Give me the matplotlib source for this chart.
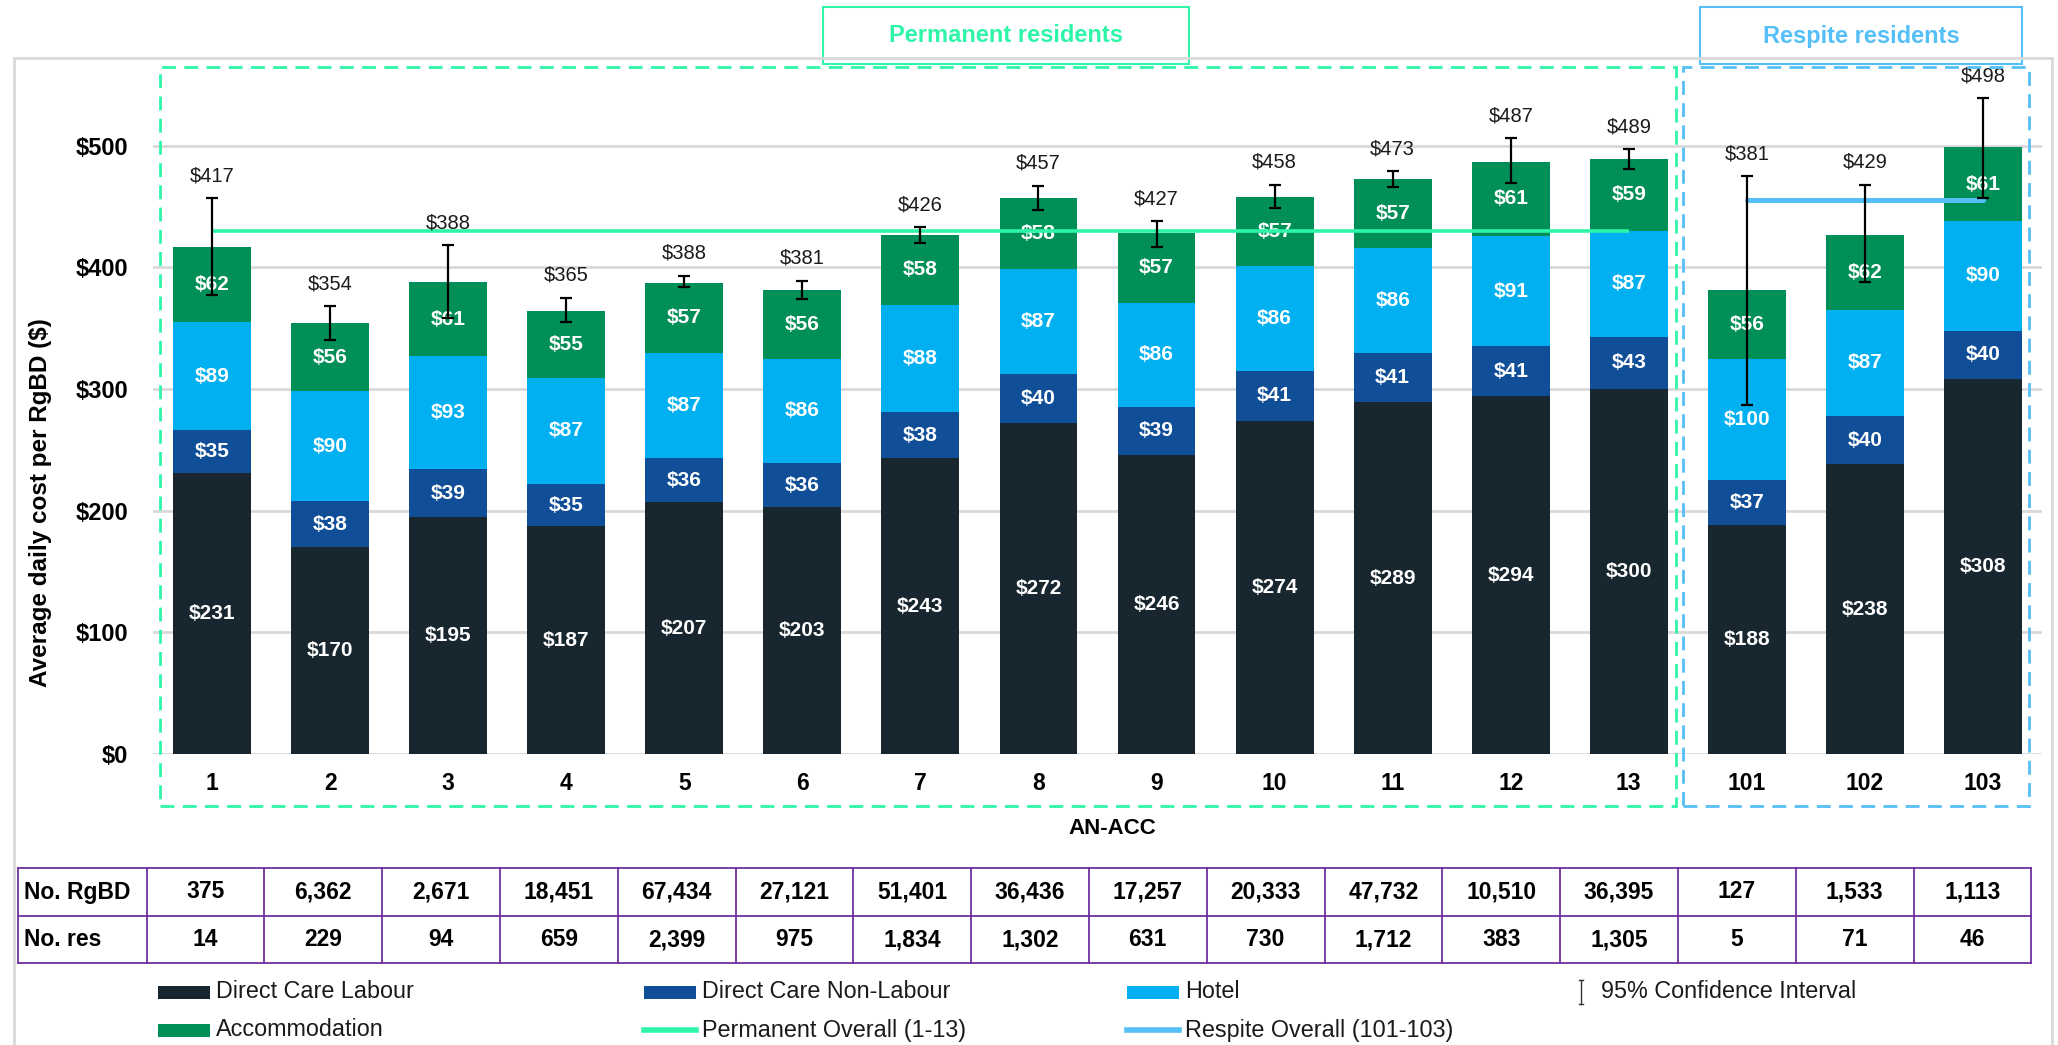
import matplotlib
matplotlib.use('Agg')
import matplotlib.pyplot as plt
from matplotlib.patches import Rectangle
from matplotlib.lines import Line2D
import numpy as np

plt.rcParams['font.family'] = ['Liberation Sans', 'DejaVu Sans']

# data
categories = ['1', '2', '3', '4', '5', '6', '7', '8', '9', '10', '11', '12', '13', '101', '102', '103']
labour = [231, 170, 195, 187, 207, 203, 243, 272, 246, 274, 289, 294, 300, 188, 238, 308]
non_labour = [35, 38, 39, 35, 36, 36, 38, 40, 39, 41, 41, 41, 43, 37, 40, 40]
hotel = [89, 90, 93, 87, 87, 86, 88, 87, 86, 86, 86, 91, 87, 100, 87, 90]
accommodation = [62, 56, 61, 55, 57, 56, 58, 58, 57, 57, 57, 61, 59, 56, 62, 61]
totals = [417, 354, 388, 365, 388, 381, 426, 457, 427, 458, 473, 487, 489, 381, 429, 498]
ci_low = [377, 340, 358, 355, 384, 374, 420, 447, 417, 449, 466, 469, 481, 287, 388, 457]
ci_high = [457, 368, 418, 375, 393, 389, 433, 467, 438, 468, 479, 506, 497, 475, 468, 539]
perm_overall = 430
resp_overall = 455
n_perm = 13
no_rgbd = ['375', '6,362', '2,671', '18,451', '67,434', '27,121', '51,401', '36,436', '17,257',
           '20,333', '47,732', '10,510', '36,395', '127', '1,533', '1,113']
no_res = ['14', '229', '94', '659', '2,399', '975', '1,834', '1,302', '631', '730', '1,712',
          '383', '1,305', '5', '71', '46']
series_names = ['Direct Care Labour', 'Direct Care Non-Labour', 'Hotel', 'Accommodation']

C_LAB = '#18272F'
C_NON = '#114E98'
C_HOT = '#00B0F0'
C_ACC = '#008F56'
C_PERM = '#2EF5A8'
C_RESP = '#55BFF8'
C_GRID = '#D9D9D9'
C_TAB = '#7030A0'

W, H = 2058, 1045
def fx(x): return x / W
def fy(y): return 1 - y / H

def main():
	fig = plt.figure(figsize=(W / 100, H / 100), dpi=100, facecolor='white')
	ax_l, ax_r, ax_t, ax_b = 153, 2042, 72.7, 754
	ax = fig.add_axes([fx(ax_l), fy(ax_b), (ax_r - ax_l) / W, (ax_b - ax_t) / H])

	x = np.arange(len(categories))
	stacks = [labour, non_labour, hotel, accommodation]
	colors = [C_LAB, C_NON, C_HOT, C_ACC]
	bottom = np.zeros(len(categories))
	for vals, col in zip(stacks, colors):
		vals = np.array(vals)
		ax.bar(x, vals, width=0.66, bottom=bottom, color=col, zorder=2)
		for xi, b, v in zip(x, bottom, vals):
			ax.text(xi, b + v / 2, '${}'.format(v), ha='center', va='center', color='white',
					fontsize=15, fontweight='bold', zorder=3)
		bottom = bottom + vals

	# overall lines
	ax.plot([x[0], x[n_perm - 1]], [perm_overall] * 2, color=C_PERM, lw=2.6, zorder=4, solid_capstyle='butt')
	ax.plot([x[n_perm], x[-1]], [resp_overall] * 2, color=C_RESP, lw=3.6, zorder=4, solid_capstyle='round')

	# confidence intervals
	tot = np.array(totals)
	ax.errorbar(x, tot, yerr=[tot - np.array(ci_low), np.array(ci_high) - tot], fmt='none',
				ecolor='black', elinewidth=1.6, capsize=4.2, capthick=1.6, zorder=5)
	for xi, t, hi in zip(x, totals, ci_high):
		ax.text(xi, hi + 18.5, '${}'.format(t), ha='center', va='center', fontsize=14.5,
				color='#1A1A1A', zorder=6)

	ax.set_xlim(-0.5, len(categories) - 0.5)
	ax.set_ylim(0, 560)
	ax.set_yticks(np.arange(0, 501, 100))
	ax.set_yticklabels(['${}'.format(v) for v in range(0, 501, 100)], fontsize=17, fontweight='bold')
	ax.set_xticks(x)
	ax.set_xticklabels(categories, fontsize=16.5, fontweight='bold')
	ax.tick_params(axis='both', length=0)
	ax.tick_params(axis='y', pad=18)
	ax.tick_params(axis='x', pad=13)
	ax.yaxis.grid(True, color=C_GRID, lw=2, zorder=0)
	ax.set_axisbelow(True)
	for s in ax.spines.values():
		s.set_visible(False)
	ax.patch.set_alpha(0)

	# labels
	fig.text(fx(41), fy(503), 'Average daily cost per RgBD ($)', rotation=90, ha='center', va='center',
			 fontsize=17.5, fontweight='bold')
	fig.text(fx(1112), fy(828), 'AN-ACC', ha='center', va='center', fontsize=16, fontweight='bold')

	# outer frame
	fig.add_artist(Line2D([fx(14), fx(14)], [fy(58), 0], color=C_GRID, lw=2))
	fig.add_artist(Line2D([fx(14), fx(2052)], [fy(58), fy(58)], color=C_GRID, lw=2))
	fig.add_artist(Line2D([fx(2052), fx(2052)], [fy(58), 0], color=C_GRID, lw=2))

	# group dashed boxes
	for (x0, x1, col) in [(160, 1676, C_PERM), (1683, 2029, C_RESP)]:
		fig.add_artist(Rectangle((fx(x0), fy(806)), fx(x1 - x0), (806 - 67) / H, fill=False,
								 edgecolor=col, lw=2, linestyle=(0, (5, 3))))

	# title boxes
	for (x0, x1, col, txt) in [(823, 1189, C_PERM, 'Permanent residents'),
							   (1700, 2022, C_RESP, 'Respite residents')]:
		fig.add_artist(Rectangle((fx(x0), fy(64)), fx(x1 - x0), 57 / H, facecolor='white',
								 edgecolor=col, lw=1.5))
		fig.text(fx((x0 + x1) / 2), fy(36), txt, ha='center', va='center', color=col,
				 fontsize=17, fontweight='bold')

	# table
	t_left, t_first, col_w = 17.7, 146.5, 117.8
	rows_y = [868, 916, 963]
	t_right = t_first + col_w * len(categories)
	for yy in rows_y:
		fig.add_artist(Line2D([fx(t_left), fx(t_right)], [fy(yy), fy(yy)], color=C_TAB, lw=1.3))
	for xx in [t_left] + [t_first + i * col_w for i in range(len(categories) + 1)]:
		fig.add_artist(Line2D([fx(xx), fx(xx)], [fy(rows_y[0]), fy(rows_y[-1])], color=C_TAB, lw=1.3))
	for r, (name, vals) in enumerate([('No. RgBD', no_rgbd), ('No. res', no_res)]):
		yc = (rows_y[r] + rows_y[r + 1]) / 2
		fig.text(fx(t_left + 6), fy(yc), name, ha='left', va='center', fontsize=16.5, fontweight='bold')
		for i, v in enumerate(vals):
			fig.text(fx(t_first + (i + 0.5) * col_w), fy(yc), v, ha='center', va='center',
					 fontsize=16.5, fontweight='bold')

	# legend
	col_x = [158, 644, 1127, 1611]
	row_y = [992, 1030]
	entries = [('patch', C_LAB, series_names[0]), ('patch', C_NON, series_names[1]),
			   ('patch', C_HOT, series_names[2]), ('ci', 'black', '95% Confidence Interval'),
			   ('patch', C_ACC, series_names[3]), ('line', C_PERM, 'Permanent Overall (1-13)'),
			   ('line', C_RESP, 'Respite Overall (101-103)')]
	for k, (kind, col, txt) in enumerate(entries):
		cx = col_x[k % 4]
		cy = row_y[k // 4]
		if kind == 'patch':
			fig.add_artist(Rectangle((fx(cx), fy(cy + 6.5)), 52 / W, 13 / H, facecolor=col, edgecolor='none'))
		elif kind == 'line':
			fig.add_artist(Line2D([fx(cx), fx(cx + 52)], [fy(cy), fy(cy)], color=col, lw=4))
		else:
			mx = cx - 30
			fig.add_artist(Line2D([fx(mx), fx(mx)], [fy(cy - 12), fy(cy + 12)], color='#333333', lw=1))
			fig.add_artist(Line2D([fx(mx - 2), fx(mx + 2)], [fy(cy - 12), fy(cy - 12)], color='#333333', lw=1))
			fig.add_artist(Line2D([fx(mx - 2), fx(mx + 2)], [fy(cy + 12), fy(cy + 12)], color='#333333', lw=1))
			cx = cx - 68
		tx = cx + 58
		fig.text(fx(tx), fy(cy), txt, ha='left', va='center', fontsize=16.8, color='#1A1A1A')

	fig.savefig('out.png', dpi=100, facecolor='white')

if __name__ == '__main__':
	main()
